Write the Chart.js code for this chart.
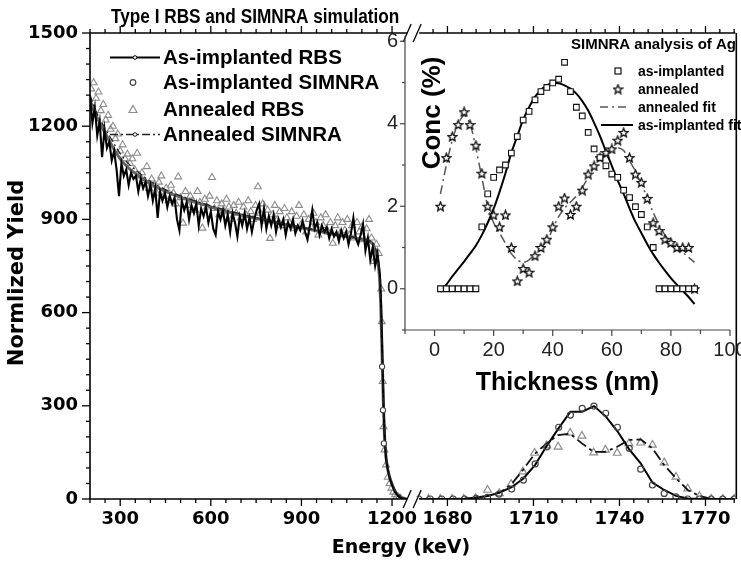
<!DOCTYPE html>
<html><head><meta charset="utf-8">
<script src="https://cdn.jsdelivr.net/npm/chart.js@4.4.1/dist/chart.umd.min.js"></script>
<style>
html,body{margin:0;padding:0;background:#fff;overflow:hidden;width:741px;height:563px;}
#wrap{position:relative;width:741px;height:563px;overflow:hidden;}
#main{position:absolute;left:0;top:0;}
#inset{position:absolute;left:360px;top:20px;}
</style></head><body>
<div id="wrap">
<canvas id="main" width="741" height="563"></canvas>
<canvas id="inset" width="400" height="380"></canvas>
</div>
<script>
// ---------------- text ----------------
const TITLE = 'Type I RBS and SIMNRA simulation';
const X_TITLE = 'Energy (keV)';
const Y_TITLE = 'Normlized Yield';
const LEGEND_MAIN = ['As-implanted RBS', 'As-implanted SIMNRA', 'Annealed RBS', 'Annealed SIMNRA'];
const INSET_TITLE = 'SIMNRA analysis of Ag';
const INSET_X_TITLE = 'Thickness (nm)';
const INSET_Y_TITLE = 'Conc (%)';
const LEGEND_INSET = ['as-implanted', 'annealed', 'annealed fit', 'as-implanted fit'];

// ---------------- main axes ----------------
const Y_TICKS = [0, 300, 600, 900, 1200, 1500];
const X_LOW_TICKS = [300, 600, 900, 1200];
const X_HIGH_TICKS = [1680, 1710, 1740, 1770];

// ---------------- main data: low-energy (background) part ----------------
const RBS_ENERGY = [200,208,216,224,232,240,248,256,264,272,280,288,296,304,312,320,328,336,344,352,360,368,376,384,392,400,408,416,424,432,440,448,456,464,472,480,488,496,504,512,520,528,536,544,552,560,568,576,584,592,600,608,616,624,632,640,648,656,664,672,680,688,696,704,712,720,728,736,744,752,760,768,776,784,792,800,808,816,824,832,840,848,856,864,872,880,888,896,904,912,920,928,936,944,952,960,968,976,984,992,1000,1008,1016,1024,1032,1040,1048,1056,1064,1072,1080,1088,1096,1104,1112,1120,1128,1136,1144,1152,1160,1164,1168,1172,1176,1180,1186,1192,1200,1210,1220,1230,1240,1250];
const AS_IMPL_RBS = [1300,1210,1260,1170,1215,1100,1190,1130,1150,1090,
  1120,1060,975,1080,1040,1060,1010,1050,1030,1040,
  990,1030,1000,1020,975,1010,960,1000,905,990,
  960,985,940,975,950,970,900,865,960,930,
  955,900,945,920,950,880,935,910,940,890,
  925,870,850,925,900,930,880,915,860,920,
  890,845,910,880,920,870,905,860,900,930,
  950,880,935,870,910,880,915,860,900,875,
  900,850,890,870,900,855,880,865,895,860,
  835,880,930,870,890,850,880,860,875,840,
  870,845,860,830,865,840,860,820,855,905,
  840,820,850,885,800,840,770,810,750,790,
  720,620,460,300,190,130,95,68,45,22,10,3,0,0];

const ANN_RBS_ENERGY = [204,212,220,228,236,244,252,260,268,276,284,292,300,308,316,324,332,340,348,356,364,372,380,388,396,404,412,420,428,436,444,452,460,468,476,484,492,500,508,516,524,532,540,548,556,564,572,580,588,596,604,612,620,628,636,644,652,660,668,676,684,692,700,708,716,724,732,740,748,756,764,772,780,788,796,804,812,820,828,836,844,852,860,868,876,884,892,900,908,916,924,932,940,948,956,964,972,980,988,996,1004,1012,1020,1028,1036,1044,1052,1060,1068,1076,1084,1092,1100,1108,1116,1124,1132,1140,1148,1156,1164,1166,1169,1172,1175,1180,1186,1192,1198,1204,1210,1216,1222,1228];
const ANN_RBS = [1320,1340,1290,1310,1250,1270,1220,1235,1190,1200,
  1160,1175,1120,1140,1095,1110,1080,1095,1060,1113,
  1040,1050,1025,1070,1000,1030,1010,985,1020,1040,
  975,1000,960,1010,985,950,1037,970,888,990,
  945,975,960,930,990,955,872,965,940,975,
  1035,935,960,915,950,925,965,940,900,945,
  920,955,905,940,915,960,925,900,945,1005,
  920,950,895,930,839,915,945,900,925,880,
  935,905,890,925,870,910,945,885,915,860,
  900,875,920,890,850,905,880,915,860,890,
  823,880,905,855,890,865,900,850,880,840,
  890,860,875,835,870,900,840,765,820,790,
  676,571,378,233,158,110,70,50,35,22,14,8,5,2];

const SIM_ENERGY = [200,210,220,230,240,250,260,280,300,325,350,375,400,450,500,550,600,650,700,750,800,850,900,950,1000,1050,1100,1120,1135,1145,1152,1158,1162,1165,1168,1171,1174,1178,1184,1192,1200,1210,1222,1235,1250];
const AS_IMPL_SIM = [1285,1258,1235,1215,1196,1178,1160,1125,1095,1068,1048,1030,1014,990,971,955,940,926,914,903,893,883,873,863,853,845,836,832,822,800,770,720,640,540,430,320,230,160,105,70,48,25,12,4,0];
const ANN_SIM = [1300,1272,1248,1228,1210,1193,1176,1143,1112,1082,1060,1040,1022,996,976,959,944,930,917,906,895,885,875,865,856,847,838,834,826,808,780,730,650,550,440,330,240,170,112,75,52,28,14,5,0];
const EDGE_CIRCLE_ENERGY = [1167,1170,1173];
const EDGE_CIRCLE = [426,286,179];

// ---------------- main data: Ag peak part ----------------
const AG_ENERGY = [1670,1674,1678,1682,1686,1690,1694,1698,1702.4,1706.5,1710.6,1714.7,1718.8,1722.9,1727,1731.1,1735.2,1739.3,1743.4,1747.4,1751.5,1755.6,1759.7,1763.8,1767.9,1772,1776,1780];
const AS_IMPL_AG_LINE = [0,0,0,0,1,5,10,20,38,66,110,172,228,281,281,299,266,218,160,115,53,29,10,2,0,0,0,0];
const AS_IMPL_AG_CIRC = [0,0,0,0,0,2,5,16,32,61,113,168,231,270,292,299,276,231,163,96,45,18,7,0,0,0,0,0];
const AG_TRI_ENERGY = [1673.4,1677.5,1681.6,1685.7,1689.8,1694,1698.1,1702.2,1706.3,1710.4,1714.6,1718.6,1722.8,1726.9,1731,1735.1,1739.2,1743.3,1747.4,1751.5,1755.6,1759.7,1763.8,1767.9,1772,1776.1,1780];
const ANN_AG_TRI = [0,0,0,0,2,29,18,48,88,148,172,168,213,203,149,158,148,179,181,174,117,71,33,9,0,0,0];
const ANN_AG_LINE = [0,0,0,1,4,10,20,46,93,145,179,206,210,179,152,152,168,190,192,163,109,67,29,10,0,0,0];

// ---------------- inset data ----------------
const DEPTH = [2,4,6,8,10,12,14,16,18,20,22,24,26,28,30,32,34,36,38,40,42,44,46,48,50,52,54,56,58,60,62,64,66,68,70,72,74,76,78,80,82,84,86,88];
const CONC_AS_IMPL = [0,0,0,0,0,0,0,1.5,2.3,2.7,2.88,3.0,3.29,3.69,4.09,4.3,4.58,4.78,4.88,4.99,5.08,5.49,4.78,4.4,4.19,3.79,3.39,3.18,2.98,2.78,2.7,2.39,2.21,1.99,1.8,1.5,1.0,0,0,0,0,0,0,0];
const CONC_ANNEALED = [2.0,3.18,3.69,3.98,4.29,3.98,3.48,2.8,2.0,1.79,1.5,1.79,1.0,0.19,0.49,0.4,0.8,1.0,1.2,1.5,2.0,2.2,1.8,2.0,2.39,2.78,2.98,3.18,3.3,3.39,3.6,3.79,3.18,2.78,2.58,2.19,1.6,1.41,1.2,1.12,1.0,1.0,1.0,0];
const FIT_ANNEALED = [2.3,3.0,3.6,4.0,4.2,4.0,3.4,2.7,2.0,1.6,1.35,1.1,0.85,0.7,0.64,0.7,0.85,1.0,1.15,1.45,1.75,1.95,2.1,2.25,2.45,2.7,2.95,3.15,3.3,3.4,3.42,3.35,3.1,2.85,2.55,2.2,1.85,1.55,1.3,1.12,1.0,0.88,0.76,0.64];
const FIT_AS_IMPL = [-0.08,0.1,0.3,0.48,0.66,0.85,1.05,1.3,1.6,1.94,2.35,2.8,3.3,3.7,4.1,4.4,4.65,4.82,4.93,5.0,4.98,4.93,4.85,4.73,4.55,4.32,4.02,3.7,3.33,2.98,2.62,2.3,1.95,1.62,1.35,1.08,0.84,0.63,0.44,0.26,0.1,-0.05,-0.2,-0.37];
const INSET_X_TICKS = [0, 20, 40, 60, 80, 100];
const INSET_Y_TICKS = [0, 2, 4, 6];

// ---------------- helpers ----------------
const pts = (xs, ys) => xs.map((x, i) => ({x, y: ys[i]}));
const BOLD_DV = {family: 'DejaVu Sans', size: 18, weight: 'bold'};
const plain = v => String(v);
const noPad = s => { s.paddingLeft = 0; s.paddingRight = 0; s.paddingTop = 0; s.paddingBottom = 0; };

function starImage(size, color) {
  const c = document.createElement('canvas');
  c.width = c.height = size;
  const g = c.getContext('2d');
  const cx = size / 2, cy = size / 2 + 0.5, R = size / 2 - 0.8, r = R * 0.45;
  g.beginPath();
  for (let i = 0; i < 10; i++) {
    const a = -Math.PI / 2 + i * Math.PI / 5;
    const rr = i % 2 ? r : R;
    g.lineTo(cx + rr * Math.cos(a), cy + rr * Math.sin(a));
  }
  g.closePath();
  g.fillStyle = '#fff'; g.fill();
  g.strokeStyle = color; g.lineWidth = 1.3; g.stroke();
  return c;
}
const STAR = starImage(11, '#111');

function seg(ctx, x1, y1, x2, y2) { ctx.beginPath(); ctx.moveTo(x1, y1); ctx.lineTo(x2, y2); ctx.stroke(); }

// ---------------- main chart ----------------
const framePlugin = {
  id: 'frame',
  afterDraw(chart) {
    const {ctx, chartArea: ca, scales} = chart;
    const xl = scales.xLow, xh = scales.xHigh, ys = scales.y;
    ctx.save();
    ctx.strokeStyle = '#000';
    ctx.lineWidth = 1.6;
    seg(ctx, ca.left, ca.top, ca.left, ca.bottom);
    seg(ctx, ca.left, ca.bottom, ca.right, ca.bottom);
    seg(ctx, ca.left, ca.top, ca.right, ca.top);
    seg(ctx, ca.right + 1, ca.top, ca.right + 1, ca.bottom);
    ctx.lineWidth = 1.3;
    for (let v = 0; v <= 1500; v += 50) {
      const p = ys.getPixelForValue(v);
      const L = Y_TICKS.includes(v) ? 8 : 4;
      seg(ctx, ca.left - L, p, ca.left, p);
    }
    for (let v = 200; v <= 1200; v += 50) {
      const p = xl.getPixelForValue(v);
      const L = X_LOW_TICKS.includes(v) ? 7 : 4;
      seg(ctx, p, ca.bottom, p, ca.bottom + L);
      seg(ctx, p, ca.top, p, ca.top - L);
    }
    for (let v = 1675; v <= 1780; v += 5) {
      const p = xh.getPixelForValue(v);
      const L = X_HIGH_TICKS.includes(v) ? 7 : 4;
      seg(ctx, p, ca.bottom, p, ca.bottom + L);
      seg(ctx, p, ca.top, p, ca.top - L);
    }
    // axis breaks
    const bx = xl.right + 3;
    [ca.top, ca.bottom].forEach(by => {
      ctx.fillStyle = '#fff';
      ctx.fillRect(bx - 6, by - 2.5, 12, 5);
      ctx.lineWidth = 1.3;
      seg(ctx, bx - 10, by + 9, bx - 2, by - 9);
      seg(ctx, bx, by + 9, bx + 8, by - 9);
    });
    // titles
    ctx.fillStyle = '#000';
    ctx.save();
    ctx.translate(111, 23); ctx.scale(0.86, 1);
    ctx.font = 'bold 20px "Liberation Sans"';
    ctx.textAlign = 'left'; ctx.textBaseline = 'alphabetic';
    ctx.fillText(TITLE, 0, 0);
    ctx.restore();
    ctx.font = 'bold 19px "DejaVu Sans"';
    ctx.textAlign = 'center'; ctx.textBaseline = 'middle';
    ctx.fillText(X_TITLE, 401, 548);
    ctx.save();
    ctx.translate(18, 273); ctx.rotate(-Math.PI / 2);
    ctx.font = 'bold 21px "DejaVu Sans"';
    ctx.fillText(Y_TITLE, 0, 0);
    ctx.restore();
    // legend
    const rows = [57.5, 82.5, 109.5, 134.5];
    ctx.font = 'bold 20.5px "Liberation Sans"';
    ctx.textAlign = 'left'; ctx.textBaseline = 'middle';
    LEGEND_MAIN.forEach((t, i) => ctx.fillText(t, 163, rows[i] + 1));
    ctx.strokeStyle = '#000'; ctx.lineWidth = 2;
    seg(ctx, 110, rows[0], 160, rows[0]);
    ctx.lineWidth = 1; ctx.fillStyle = '#fff';
    ctx.beginPath(); ctx.arc(135, rows[0], 1.8, 0, Math.PI * 2); ctx.fill(); ctx.stroke();
    ctx.strokeStyle = '#444'; ctx.lineWidth = 1.2;
    ctx.beginPath(); ctx.arc(133, rows[1], 2.8, 0, Math.PI * 2); ctx.stroke();
    ctx.strokeStyle = '#8c8c8c';
    ctx.beginPath(); ctx.moveTo(133, rows[2] - 4); ctx.lineTo(137, rows[2] + 3); ctx.lineTo(129, rows[2] + 3); ctx.closePath(); ctx.stroke();
    ctx.strokeStyle = '#222'; ctx.lineWidth = 1.5; ctx.setLineDash([8, 3, 2, 3]);
    seg(ctx, 110, rows[3], 160, rows[3]);
    ctx.setLineDash([]);
    ctx.lineWidth = 1; ctx.fillStyle = '#fff';
    ctx.beginPath(); ctx.arc(135, rows[3], 1.8, 0, Math.PI * 2); ctx.fill(); ctx.stroke();
    ctx.restore();
  }
};

const mainChart = new Chart(document.getElementById('main'), {
  type: 'scatter',
  data: {
    datasets: [
      {label: 'Annealed RBS', xAxisID: 'xLow', yAxisID: 'y', data: pts(ANN_RBS_ENERGY, ANN_RBS),
       pointStyle: 'triangle', pointRadius: 4, borderColor: '#8c8c8c', backgroundColor: 'rgba(0,0,0,0)', borderWidth: 1.1, order: 10},
      {label: 'Annealed RBS Ag', xAxisID: 'xHigh', yAxisID: 'y', data: pts(AG_TRI_ENERGY, ANN_AG_TRI),
       pointStyle: 'triangle', pointRadius: 4.5, borderColor: '#8c8c8c', backgroundColor: 'rgba(0,0,0,0)', borderWidth: 1.2, order: 10},
      {label: 'As-implanted SIMNRA line', xAxisID: 'xLow', yAxisID: 'y', data: pts(SIM_ENERGY, AS_IMPL_SIM),
       showLine: true, pointRadius: 0, borderColor: '#666', borderWidth: 3, tension: 0.3, order: 9},
      {label: 'As-implanted RBS', xAxisID: 'xLow', yAxisID: 'y', data: pts(RBS_ENERGY, AS_IMPL_RBS),
       showLine: true, pointRadius: 0, borderColor: '#000', borderWidth: 2.1, tension: 0, order: 8},
      {label: 'Annealed SIMNRA', xAxisID: 'xLow', yAxisID: 'y', data: pts(SIM_ENERGY, ANN_SIM),
       showLine: true, pointRadius: 0, borderColor: '#222', borderWidth: 1.3, borderDash: [7, 3, 2, 3], tension: 0.3, order: 6},
      {label: 'As-implanted SIMNRA', xAxisID: 'xLow', yAxisID: 'y', data: pts(EDGE_CIRCLE_ENERGY, EDGE_CIRCLE),
       pointStyle: 'circle', pointRadius: 2.6, borderColor: '#444', backgroundColor: '#fff', borderWidth: 1.1, order: 5},
      {label: 'Annealed Ag line', xAxisID: 'xHigh', yAxisID: 'y', data: pts(AG_TRI_ENERGY, ANN_AG_LINE),
       showLine: true, pointRadius: 0, borderColor: '#111', borderWidth: 1.8, borderDash: [11, 4, 3, 4], tension: 0, order: 6},
      {label: 'As-implanted Ag line', xAxisID: 'xHigh', yAxisID: 'y', data: pts(AG_ENERGY, AS_IMPL_AG_LINE),
       showLine: true, pointRadius: 0, borderColor: '#000', borderWidth: 2, tension: 0, order: 7},
      {label: 'As-implanted Ag circles', xAxisID: 'xHigh', yAxisID: 'y', data: pts(AG_ENERGY, AS_IMPL_AG_CIRC),
       pointStyle: 'circle', pointRadius: 3, borderColor: '#444', backgroundColor: 'rgba(0,0,0,0)', borderWidth: 1.2, order: 5}
    ]
  },
  options: {
    responsive: false, animation: false, devicePixelRatio: 1, events: [],
    layout: {padding: {top: 33, right: 2, left: 0, bottom: 0}},
    plugins: {legend: {display: false}, tooltip: {enabled: false}, title: {display: false}},
    scales: {
      xLow: {
        type: 'linear', position: 'bottom', stack: 'x', stackWeight: 321.5, min: 200, max: 1260,
        grid: {display: false, drawTicks: false}, border: {display: false},
        ticks: {font: BOLD_DV, color: '#000', padding: 10, maxRotation: 0, autoSkip: false, callback: plain},
        afterBuildTicks: s => { s.ticks = X_LOW_TICKS.map(v => ({value: v})); },
        afterFit: s => { s.height = 64; noPad(s); }
      },
      xHigh: {
        type: 'linear', position: 'bottom', stack: 'x', stackWeight: 326.5, min: 1667, max: 1780.4,
        grid: {display: false, drawTicks: false}, border: {display: false},
        ticks: {font: BOLD_DV, color: '#000', padding: 10, maxRotation: 0, autoSkip: false, callback: plain},
        afterBuildTicks: s => { s.ticks = X_HIGH_TICKS.map(v => ({value: v})); },
        afterFit: s => { s.height = 64; noPad(s); }
      },
      y: {
        type: 'linear', position: 'left', min: 0, max: 1500,
        grid: {display: false, drawTicks: false}, border: {display: false},
        ticks: {font: BOLD_DV, color: '#000', padding: 12, callback: plain},
        afterBuildTicks: s => { s.ticks = Y_TICKS.map(v => ({value: v})); },
        afterFit: s => { s.width = 90; noPad(s); }
      }
    }
  },
  plugins: [framePlugin]
});

// ---------------- inset chart ----------------
const insetPlugin = {
  id: 'insetFrame',
  afterDraw(chart) {
    const {ctx, chartArea: ca, scales: {x, y}} = chart;
    ctx.save();
    ctx.strokeStyle = '#444'; ctx.lineWidth = 1.2;
    seg(ctx, ca.left, ca.bottom, ca.left, ca.top + 3);
    seg(ctx, ca.left, ca.bottom, ca.right, ca.bottom);
    for (let v = -1; v <= 6; v++) {
      const p = y.getPixelForValue(v);
      const L = INSET_Y_TICKS.includes(v) ? 5 : 3;
      seg(ctx, ca.left - L, p, ca.left, p);
    }
    for (let v = -10; v <= 100; v += 10) {
      const p = x.getPixelForValue(v);
      const L = INSET_X_TICKS.includes(v) ? 6 : 4;
      seg(ctx, p, ca.bottom, p, ca.bottom + L);
    }
    ctx.fillStyle = '#000';
    ctx.save();
    ctx.translate(72.5, 93); ctx.rotate(-Math.PI / 2);
    ctx.font = 'bold 26px "Liberation Sans"'; ctx.textAlign = 'center'; ctx.textBaseline = 'middle';
    ctx.fillText(INSET_Y_TITLE, 0, 0);
    ctx.restore();
    ctx.font = 'bold 15px "Liberation Sans"'; ctx.textAlign = 'right'; ctx.textBaseline = 'middle';
    ctx.fillText(INSET_TITLE, 376, 25);
    // legend
    const rows = [51, 69, 87, 105];
    ctx.font = 'bold 14px "Liberation Sans"'; ctx.textAlign = 'left';
    LEGEND_INSET.forEach((t, i) => ctx.fillText(t, 278, rows[i] + 1));
    ctx.strokeStyle = '#111'; ctx.lineWidth = 1.2;
    ctx.strokeRect(255, rows[0] - 3, 6, 6);
    ctx.drawImage(STAR, 252.5, rows[1] - 5.5);
    ctx.strokeStyle = '#555'; ctx.lineWidth = 1.5; ctx.setLineDash([8, 4, 2, 4]);
    seg(ctx, 240, rows[2], 270, rows[2]);
    ctx.setLineDash([]);
    ctx.strokeStyle = '#000'; ctx.lineWidth = 2;
    seg(ctx, 241, rows[3], 273, rows[3]);
    ctx.restore();
  }
};

const insetChart = new Chart(document.getElementById('inset'), {
  type: 'scatter',
  data: {
    datasets: [
      {label: LEGEND_INSET[0], data: pts(DEPTH, CONC_AS_IMPL), pointStyle: 'rect', pointRadius: 4,
       borderColor: '#111', backgroundColor: '#fff', borderWidth: 1.1, order: 1},
      {label: LEGEND_INSET[1], data: pts(DEPTH, CONC_ANNEALED), pointStyle: STAR, pointRadius: 5, order: 1},
      {label: LEGEND_INSET[2], data: pts(DEPTH, FIT_ANNEALED), showLine: true, pointRadius: 0,
       borderColor: '#555', borderWidth: 1.5, borderDash: [9, 4, 2, 4], tension: 0.3, order: 3},
      {label: LEGEND_INSET[3], data: pts(DEPTH, FIT_AS_IMPL), showLine: true, pointRadius: 0,
       borderColor: '#000', borderWidth: 2, tension: 0.3, order: 2}
    ]
  },
  options: {
    responsive: false, animation: false, devicePixelRatio: 1, events: [],
    layout: {padding: {top: 13, right: 30, left: 0, bottom: 0}},
    plugins: {legend: {display: false}, tooltip: {enabled: false}},
    scales: {
      x: {
        type: 'linear', min: -10, max: 100,
        grid: {display: false, drawTicks: false}, border: {display: false},
        ticks: {font: {family: 'Liberation Sans', size: 20}, color: '#222', padding: 8, maxRotation: 0, autoSkip: false, callback: plain},
        afterBuildTicks: s => { s.ticks = INSET_X_TICKS.map(v => ({value: v})); },
        afterFit: s => { s.height = 70; noPad(s); },
        title: {display: true, text: INSET_X_TITLE, color: '#000', font: {family: 'Liberation Sans', size: 25, weight: 'bold', lineHeight: 1.2}, padding: {top: 0, bottom: 2}}
      },
      y: {
        type: 'linear', min: -1, max: 6.2,
        grid: {display: false, drawTicks: false}, border: {display: false},
        ticks: {font: {family: 'Liberation Sans', size: 20}, color: '#222', padding: 7, callback: plain},
        afterBuildTicks: s => { s.ticks = INSET_Y_TICKS.map(v => ({value: v})); },
        afterFit: s => { s.width = 45; noPad(s); }
      }
    }
  },
  plugins: [insetPlugin]
});
</script>
</body></html>
